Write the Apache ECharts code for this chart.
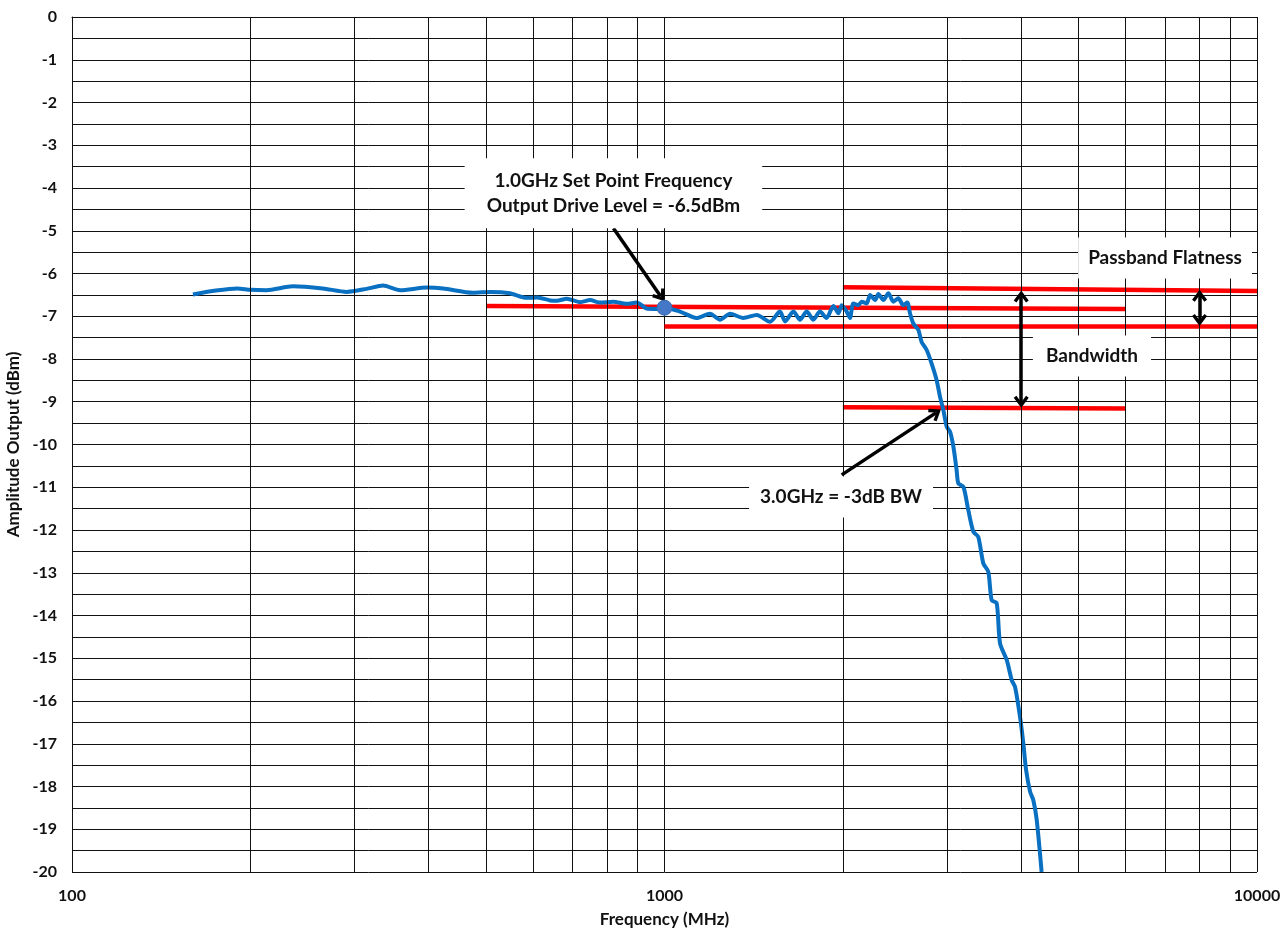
<!DOCTYPE html>
<html>
<head>
<meta charset="utf-8">
<script src="https://cdn.jsdelivr.net/npm/echarts@6/dist/echarts.min.js"></script>
<style>
html,body{margin:0;padding:0;background:#fff;}
#chart{width:1280px;height:932px;}
</style>
</head>
<body>
<div id="chart"></div>
<script>
// ---- data ----
const xTicks = [100, 1000, 10000];
const minorFreqs = [200, 300, 400, 500, 600, 700, 800, 900, 2000, 3000, 4000, 5000, 6000, 7000, 8000, 9000];
const freqMHz = [160,175,190,200,213,236,265,291,314,335,358,397,423,475,508,548,585,610,641,658,684,720,749,778,820,863,898,933,970,1000,1062,1133,1193,1241,1290,1358,1431,1507,1566,1598,1650,1693,1738,1783,1830,1877,1928,1966,1991,2030,2056,2083,2124,2152,2194,2223,2267,2296,2341,2387,2434,2481,2529,2569,2596,2630,2682,2716,2770,2823,2879,2917,2955,2994,3033,3073,3112,3133,3195,3256,3321,3385,3452,3520,3566,3636,3684,3781,3855,3905,3981,4033,4076,4140,4193,4248,4330];
const amplitudeDbm = [-6.49,-6.40,-6.35,-6.38,-6.39,-6.30,-6.35,-6.43,-6.36,-6.28,-6.39,-6.33,-6.35,-6.45,-6.43,-6.46,-6.57,-6.56,-6.63,-6.64,-6.59,-6.67,-6.62,-6.68,-6.66,-6.71,-6.68,-6.82,-6.83,-6.80,-6.89,-7.04,-6.94,-7.08,-6.94,-7.04,-6.97,-7.13,-6.89,-7.12,-6.89,-7.08,-6.89,-7.08,-6.89,-7.04,-6.76,-6.93,-6.74,-6.89,-7.04,-6.70,-6.74,-6.66,-6.70,-6.50,-6.62,-6.48,-6.62,-6.46,-6.66,-6.58,-6.74,-6.68,-6.93,-7.17,-7.32,-7.60,-7.79,-8.10,-8.49,-8.88,-9.19,-9.58,-9.70,-10.05,-10.60,-10.91,-10.99,-11.53,-12.04,-12.16,-12.78,-12.98,-13.64,-13.71,-14.65,-15.04,-15.51,-15.67,-16.37,-16.99,-17.61,-18.12,-18.32,-18.78,-20.0];
const setPoint = [1000, -6.80];
const refLineSetPoint = [[500, -6.76], [6000, -6.83]];
const refLineUpper = [[2000, -6.32], [10000, -6.41]];
const refLineLower = [[1000, -7.24], [10000, -7.24]];
const refLine3dB = [[2000, -9.13], [6000, -9.16]];
const arrowSetPoint = [[820, -4.94], [985, -6.53]];
const arrow3dB = [[1991, -10.71], [2871, -9.26]];
const arrowBandwidth = [[4000, -6.54], [4000, -9.00]];
const arrowFlatness = [[8000, -6.52], [8000, -7.09]];
const noteTexts = ['1.0GHz Set Point Frequency\nOutput Drive Level = -6.5dBm', '3.0GHz = -3dB BW', 'Bandwidth', 'Passband Flatness'];
const noteAnchors = [[820, -4.12], [1986, -11.23], [5266, -7.93], [6995, -5.64]];

// ---- chart ----
const FONT = 'Lato';
const chevron = 'path://M5,0 L10,6.5 L8.2,7.8 L5,3.6 L1.8,7.8 L0,6.5 Z';
const notePadding = [[10, 22], [8, 11], [8, 13], [8, 10]];
const chart = echarts.init(document.getElementById('chart'));

function redSeries(pts) {
  return {
    type: 'line', data: pts, symbol: 'none', z: 3, silent: true,
    lineStyle: {color: '#ff0000', width: 4.5}
  };
}
function arrowLine(pts, both) {
  return [{coord: pts[0], symbol: both ? chevron : 'none'}, {coord: pts[1], symbol: chevron}];
}

const option = {
  animation: false,
  backgroundColor: '#ffffff',
  textStyle: {fontFamily: FONT},
  grid: {left: 72, right: 23, top: 17, bottom: 60, containLabel: false, outerBoundsMode: 'none'},
  xAxis: {
    type: 'log', logBase: 10, min: 100, max: 10000,
    name: 'Frequency (MHz)', nameLocation: 'middle', nameGap: 39,
    nameTextStyle: {fontFamily: FONT, fontWeight: 'bold', fontSize: 17, color: '#111'},
    axisLine: {show: true, lineStyle: {color: '#111', width: 1}},
    axisTick: {show: false},
    axisLabel: {
      fontFamily: FONT, fontWeight: 'bold', fontSize: 16, color: '#111', margin: 16,
      formatter: v => (xTicks.indexOf(Math.round(v)) >= 0 ? String(Math.round(v)) : '')
    },
    splitLine: {show: true, lineStyle: {color: '#111', width: 1}}
  },
  yAxis: {
    type: 'value', min: -20, max: 0, interval: 1,
    name: 'Amplitude Output (dBm)', nameLocation: 'middle', nameGap: 41,
    nameTextStyle: {fontFamily: FONT, fontWeight: 'bold', fontSize: 17, color: '#111'},
    axisLine: {show: true, lineStyle: {color: '#111', width: 1}},
    axisTick: {show: false},
    axisLabel: {fontFamily: FONT, fontWeight: 'bold', fontSize: 16, color: '#111', margin: 15},
    splitLine: {show: true, lineStyle: {color: '#111', width: 1}},
    minorTick: {show: false, splitNumber: 2},
    minorSplitLine: {show: true, lineStyle: {color: '#111', width: 1}}
  },
  series: [
    {
      name: 'vgrid', type: 'line', data: [], z: 1, silent: true,
      markLine: {
        silent: true, symbol: 'none', animation: false,
        label: {show: false},
        lineStyle: {color: '#111', width: 1, type: 'solid'},
        data: minorFreqs.map(f => ({xAxis: f}))
      }
    },
    redSeries(refLineSetPoint),
    redSeries(refLineUpper),
    redSeries(refLineLower),
    redSeries(refLine3dB),
    {
      name: 'Output', type: 'line', z: 4, symbol: 'none', smooth: 0.25,
      data: freqMHz.map((f, i) => [f, amplitudeDbm[i]]),
      lineStyle: {color: '#0a70c2', width: 4}
    },
    {
      name: 'set point', type: 'scatter', z: 5, data: [setPoint], symbolSize: 15,
      itemStyle: {color: '#4478c6', borderColor: '#3a6bb5', borderWidth: 1, opacity: 1}
    },
    {
      name: 'arrows', type: 'line', data: [], z: 6, silent: true,
      markLine: {
        silent: true, animation: false, symbolSize: [15, 12],
        label: {show: false},
        lineStyle: {color: '#000', width: 3.5, type: 'solid'},
        itemStyle: {color: '#000'},
        data: [
          arrowLine(arrowSetPoint, false),
          arrowLine(arrow3dB, false),
          arrowLine(arrowBandwidth, true),
          arrowLine(arrowFlatness, true)
        ]
      }
    },
    {
      name: 'notes', type: 'scatter', z: 7, symbolSize: 1, silent: true,
      itemStyle: {opacity: 0},
      emphasis: {disabled: true},
      data: noteAnchors.map((a, i) => ({
        value: a, name: noteTexts[i],
        label: {padding: notePadding[i]}
      })),
      label: {
        show: true, position: 'inside', formatter: p => p.name,
        fontFamily: FONT, fontWeight: 'bold', fontSize: 19, color: '#111',
        textBorderWidth: 0, textBorderColor: 'transparent', opacity: 1,
        lineHeight: 25, align: 'center', verticalAlign: 'middle',
        backgroundColor: '#ffffff'
      }
    }
  ]
};
chart.setOption(option);
</script>
</body>
</html>
